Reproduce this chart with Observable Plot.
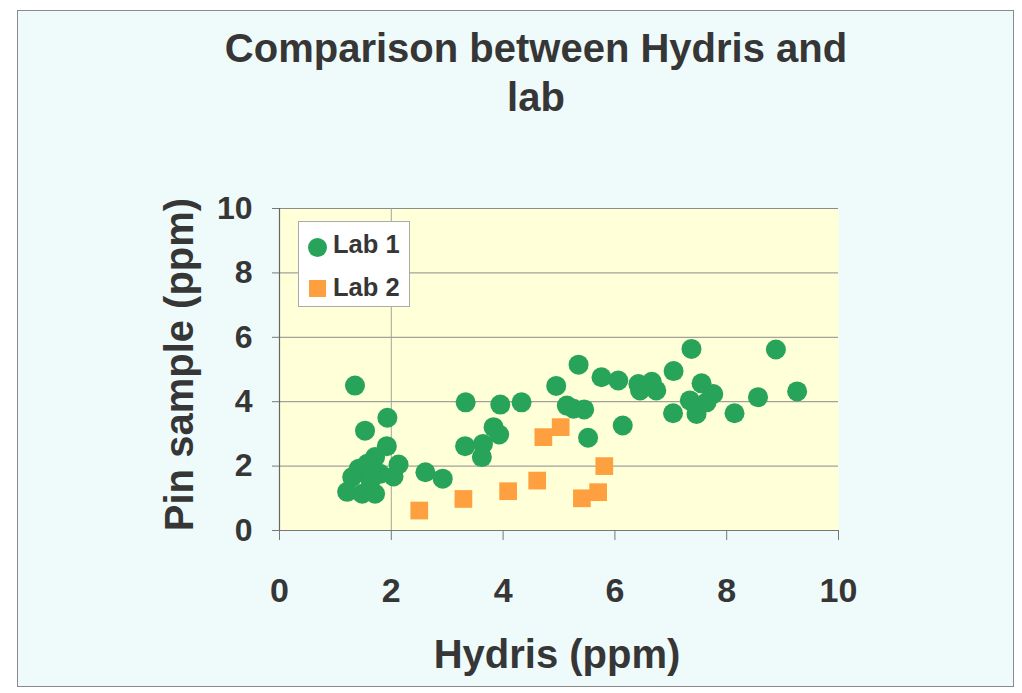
<!DOCTYPE html>
<html><head><meta charset="utf-8">
<script src="https://cdn.jsdelivr.net/npm/d3@7"></script>
<script src="https://cdn.jsdelivr.net/npm/@observablehq/plot@0.6"></script>
<style>
html,body{margin:0;padding:0;background:#fff;}
body{width:1022px;height:693px;position:relative;overflow:hidden;font-family:"Liberation Sans",Arial,sans-serif;color:#363636;}
#bg{position:absolute;left:17px;top:10px;width:997px;height:677px;background:#effbfb;border:1px solid #8a8a8a;box-sizing:border-box;}
#title{position:absolute;left:36px;top:24px;width:1000px;text-align:center;font-size:40px;line-height:49px;font-weight:bold;color:#363636;}
#chart{position:absolute;left:0;top:125px;}
#legend{position:absolute;left:298px;top:221px;width:112px;height:86px;background:#fff;border:1px solid #aaa;box-sizing:border-box;}
#legend .t{position:absolute;left:34px;font-size:25.5px;line-height:26px;font-weight:bold;color:#363636;white-space:nowrap;}
#legend .c{position:absolute;left:9px;top:16px;width:19px;height:19px;border-radius:50%;}
#legend .s{position:absolute;left:10px;top:58px;width:17px;height:17px;}
</style></head>
<body>
<div id="bg"></div>
<div id="title">Comparison between Hydris and<br>lab</div>
<div id="chart"></div>
<div id="legend">
  <div class="c" id="lc"></div><div class="t" style="top:9px">Lab 1</div>
  <div class="s" id="ls"></div><div class="t" style="top:52px">Lab 2</div>
</div>
<script>
const seriesNames = ["Lab 1", "Lab 2"];
const seriesColors = ["#27a35a", "#ffa040"];
const lab1X = [1.35,1.93,1.53,1.92,1.71,2.13,1.42,1.57,1.80,2.04,1.30,1.21,1.48,1.71,1.63,2.61,2.92,3.33,3.32,3.64,3.62,3.83,3.93,3.95,4.33,4.95,5.35,5.14,5.26,5.45,5.52,5.76,6.06,6.14,6.42,6.45,6.66,6.74,7.05,7.37,7.04,7.55,7.76,7.34,7.46,7.64,8.14,8.56,8.88,9.26];
const lab1Y = [4.50,3.50,3.10,2.62,2.28,2.05,1.92,2.07,1.76,1.68,1.66,1.20,1.14,1.14,1.55,1.81,1.61,3.98,2.62,2.69,2.28,3.21,2.98,3.91,3.98,4.49,5.15,3.88,3.78,3.76,2.88,4.76,4.66,3.26,4.55,4.35,4.62,4.35,4.95,5.64,3.64,4.57,4.24,4.04,3.62,3.98,3.64,4.14,5.62,4.32];
const lab2X = [2.50,3.29,4.09,4.61,4.72,5.03,5.41,5.70,5.81];
const lab2Y = [0.62,0.98,1.22,1.55,2.90,3.21,1.00,1.19,2.00];
const xTicks = [0,2,4,6,8,10];
const yTicks = [0,2,4,6,8,10];
const xGridLines = [2];
const xLabel = "Hydris (ppm)";
const yLabel = "Pin sample (ppm)";

const lab1 = lab1X.map((x, i) => ({x, y: lab1Y[i]}));
const lab2 = lab2X.map((x, i) => ({x, y: lab2Y[i]}));
document.getElementById("lc").style.background = seriesColors[0];
document.getElementById("ls").style.background = seriesColors[1];

const chart = Plot.plot({
  width: 1022, height: 568,
  marginTop: 83, marginBottom: 163, marginLeft: 279, marginRight: 184,
  style: {background: "transparent", fontFamily: "Liberation Sans, Arial, sans-serif", color: "#363636", overflow: "visible"},
  x: {domain: [0, 10]},
  y: {domain: [0, 10]},
  marks: [
    Plot.frame({fill: "#ffffd8", stroke: null}),
    Plot.gridY(yTicks, {stroke: "#8c8c8c", strokeOpacity: 1, strokeWidth: 1}),
    Plot.gridX(xGridLines, {stroke: "#9a9a9a", strokeOpacity: 0.9, strokeWidth: 1}),
    Plot.ruleX([0], {stroke: "#666", strokeWidth: 1.2}),
    Plot.ruleY([0], {stroke: "#777", strokeWidth: 1.2}),
    Plot.axisX(xTicks, {tickSize: 10, tickPadding: 37, fontSize: 34, fontWeight: "bold", label: null, stroke: "#777", fill: "#363636"}),
    Plot.axisY(yTicks, {tickSize: 7, tickPadding: 20, fontSize: 32, fontWeight: "bold", label: null, stroke: "#777", fill: "#363636"}),
    Plot.dot(lab1, {x: "x", y: "y", r: 10, fill: seriesColors[0], symbol: "circle"}),
    Plot.dot(lab2, {x: "x", y: "y", r: 10, fill: seriesColors[1], symbol: "square"}),
    Plot.text([xLabel], {text: d => d, frameAnchor: "bottom", lineAnchor: "bottom", dy: 137, dx: -2, fontSize: 40, fontWeight: "bold", fill: "#363636"}),
    Plot.text([yLabel], {text: d => d, frameAnchor: "left", textAnchor: "middle", lineAnchor: "bottom", rotate: -90, dx: -87, dy: -5, fontSize: 40, fontWeight: "bold", fill: "#363636"})
  ]
});
document.getElementById("chart").appendChild(chart);
</script>
</body></html>
